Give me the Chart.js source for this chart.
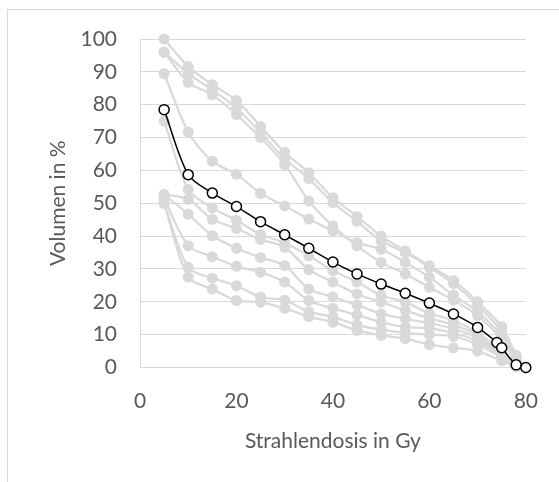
<!DOCTYPE html>
<html lang="de">
    <head>
        <meta charset="utf-8" />
        <title>Volumen / Strahlendosis</title>
        <style>
            html, body { margin: 0; padding: 0; background: #fff; overflow: hidden; }
            #frame { position: absolute; left: 7px; top: 9px; width: 700px; height: 700px; border: 1px solid #d9d9d9; }
            #chart-box { position: absolute; left: 0; top: 0; width: 559px; height: 482px; }
        </style>
        <script src="https://cdn.jsdelivr.net/npm/chart.js"></script>
    </head>
    <body>
        <div id="frame"></div>
        <div id="chart-box">
            <canvas id="dvhChart" width="559" height="482"></canvas>
        </div>
        <script>
            // dose steps (Gy) of the single curves
            const doseGray = [5, 10, 15, 20, 25, 30, 35, 40, 45, 50, 55, 60, 65, 70, 75, 78];
            // volume in % per curve
            const curve1  = [100, 91.6, 86.1, 81.3, 73.4, 65.5, 59.3, 51.7, 46, 40, 35.5, 31, 26.5, 20, 12.4, 3.7];
            const curve2  = [96, 89.5, 84.5, 79, 71.5, 63.5, 57.5, 50.2, 44.5, 38.5, 35, 30.5, 25.5, 19, 11, 3];
            const curve3  = [96, 86.8, 83, 77, 70, 61.8, 50.7, 43.1, 37, 32, 28.5, 24.4, 20.5, 15.8, 8.5, 1.5];
            const curve4  = [89.5, 71.7, 62.8, 58.8, 53, 49.2, 45.2, 41.6, 38, 36, 32, 27.5, 22, 17, 9.5, 2];
            const curve5  = [75, 54.2, 48.6, 44.8, 40.5, 38, 34, 29.5, 26, 22, 19.9, 16.5, 14.3, 10.5, 5, 1];
            const curve6  = [52.7, 51.2, 45.1, 42.3, 39, 36.6, 29.8, 26, 22.4, 19.9, 17.4, 15, 13, 9.8, 4.5, 0.8];
            const curve7  = [52.7, 46.7, 40.1, 36.3, 33.5, 31, 23.9, 21.5, 19, 16.4, 14.8, 13.5, 11.8, 9, 4, 0.6];
            const curve8  = [51.5, 37.1, 33.7, 30.8, 29, 26, 20.4, 18, 16, 13.8, 12.3, 12, 10.5, 8, 3.5, 0.5];
            const curve9  = [50, 30.5, 27.2, 24.9, 21.4, 20.5, 17, 15.4, 13, 11.5, 10.5, 10, 9.5, 7, 3, 0.4];
            const curve10 = [50, 27.5, 23.9, 20.4, 19.9, 18, 15.5, 13.8, 11.3, 9.8, 8.8, 7, 6, 5, 2, 0.3];

            // highlighted curve
            const doseMean   = [5, 10, 15, 20, 25, 30, 35, 40, 45, 50, 55, 60, 65, 70, 74, 75, 78, 80];
            const volumeMean = [78.5, 58.7, 53.1, 49, 44.4, 40.4, 36.3, 32.1, 28.5, 25.4, 22.6, 19.6, 16.3, 12.2, 7.6, 6, 0.8, 0];

            const xTicks = [0, 20, 40, 60, 80];
            const yTicks = [0, 10, 20, 30, 40, 50, 60, 70, 80, 90, 100];

            const grayCurves = [curve1, curve2, curve3, curve4, curve5, curve6, curve7, curve8, curve9, curve10];

            const textColor = '#595959';
            const lineGray = '#d9d9d9';
            const tickFont = { family: 'Lato', size: 21 };

            const toPoints = (xs, ys) => xs.map((x, i) => ({ x: x, y: ys[i] }));

            const datasets = [{
                data: toPoints(doseMean, volumeMean),
                borderColor: '#000',
                borderWidth: 1.5,
                pointRadius: 5,
                pointBorderWidth: 1.5,
                pointBackgroundColor: '#fff',
                pointBorderColor: '#000',
                tension: 0.3,
                clip: false,
                order: 0
            }];
            grayCurves.forEach(c => {
                datasets.push({
                    data: toPoints(doseGray, c),
                    borderColor: lineGray,
                    borderWidth: 2.25,
                    pointRadius: 5.5,
                    pointBorderWidth: 0,
                    pointBackgroundColor: lineGray,
                    tension: 0.3,
                    clip: false,
                    order: 1
                });
            });

            new Chart(document.getElementById('dvhChart'), {
                type: 'line',
                data: { datasets: datasets },
                options: {
                    responsive: false,
                    animation: false,
                    layout: { padding: { left: 0, top: 39, right: 18, bottom: 0 } },
                    plugins: { legend: { display: false }, tooltip: { enabled: false } },
                    scales: {
                        x: {
                            type: 'linear',
                            min: 0,
                            max: 80,
                            afterBuildTicks: s => { s.ticks = xTicks.map(v => ({ value: v })); },
                            afterFit: s => { s.height = 114.5; },
                            ticks: { color: textColor, font: tickFont, padding: 21 },
                            grid: { display: false, drawTicks: false },
                            border: { display: true, color: lineGray, width: 1 },
                            title: {
                                display: true,
                                text: 'Strahlendosis in Gy',
                                color: textColor,
                                font: tickFont,
                                padding: { top: 0, bottom: 28 }
                            }
                        },
                        y: {
                            type: 'linear',
                            min: 0,
                            max: 100,
                            afterBuildTicks: s => { s.ticks = yTicks.map(v => ({ value: v })); },
                            afterFit: s => { s.width = 140; },
                            ticks: { color: textColor, font: tickFont, padding: 23 },
                            grid: { color: lineGray, lineWidth: 1, drawTicks: false },
                            border: { display: true, color: lineGray, width: 1 },
                            title: {
                                display: true,
                                text: 'Volumen in %',
                                color: textColor,
                                font: tickFont,
                                padding: { top: 46, bottom: 0 }
                            }
                        }
                    }
                }
            });
        </script>
    </body>
</html>
